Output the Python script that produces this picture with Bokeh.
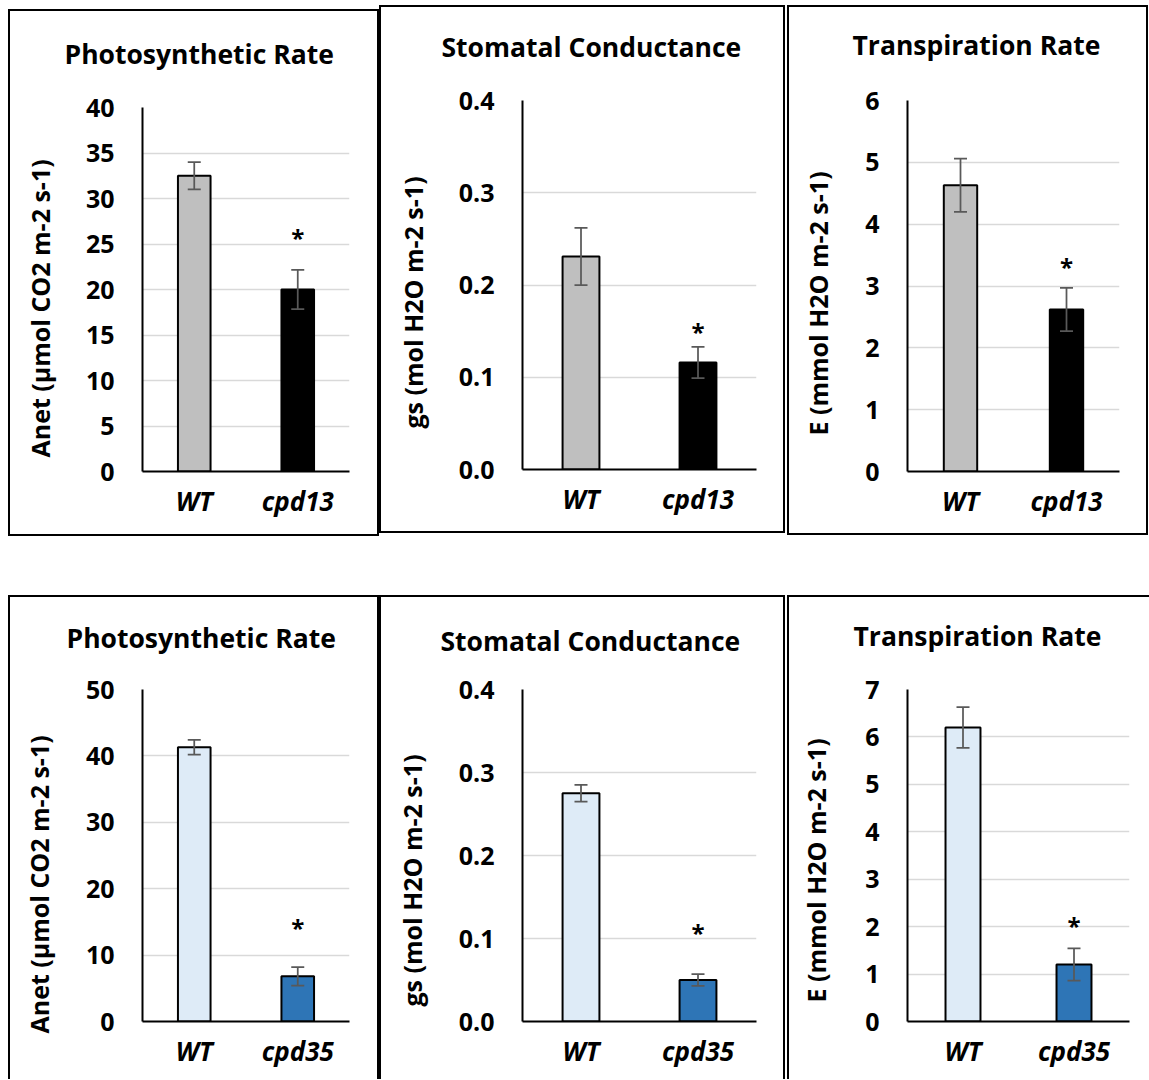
from bokeh.plotting import figure
from bokeh.models import (ColumnDataSource, FactorRange, Range1d, FixedTicker,
                          NumeralTickFormatter, Whisker, TeeHead, Spacer, Title)
from bokeh.layouts import row, column
from bokeh.core.properties import value
from bokeh.embed import file_html
from bokeh.resources import INLINE

FONT = "Open Sans"

# ---------------- data ----------------
genotypes_top = ["WT", "cpd13"]
genotypes_bottom = ["WT", "cpd35"]

anet_top = [32.5, 20.0]
anet_top_se = [1.5, 2.15]
gs_top = [0.231, 0.116]
gs_top_se = [0.031, 0.017]
e_top = [4.63, 2.62]
e_top_se = [0.43, 0.35]

anet_bottom = [41.3, 6.8]
anet_bottom_se = [1.1, 1.4]
gs_bottom = [0.275, 0.050]
gs_bottom_se = [0.010, 0.007]
e_bottom = [6.2, 1.2]
e_bottom_se = [0.43, 0.34]

star_y_top = [25.7, 0.150, 3.31]
star_y_bottom = [14.2, 0.107, 2.02]

panel_titles = ["Photosynthetic Rate", "Stomatal Conductance", "Transpiration Rate"]
y_labels = ["Anet (\u00b5mol CO2 m-2 s-1)", "gs (mol H2O m-2 s-1)", "E (mmol H2O m-2 s-1)"]
y_max_top = [40, 0.4, 6]
y_step_top = [5, 0.1, 1]
y_max_bottom = [50, 0.4, 7]
y_step_bottom = [10, 0.1, 1]
tick_formats = ["0", "0.0", "0"]

colors_top = ["#bfbfbf", "#000000"]
colors_bottom = ["#deebf7", "#2e75b6"]

# ---------------- layout geometry (page pixels) ----------------
# box=(x0, y0, w, h); frame=(left, right, top, bottom); title=(left x, baseline y)
# ygap: space between tick labels and y label; yoff: y label start above frame bottom
GEOM_TOP = [
    dict(box=(8, 9, 371, 527), sides="tlrb", frame=(142, 349, 107, 471), title=(64, 63), ygap=26, yoff=14),
    dict(box=(379, 5, 406, 528), sides="tlrb", frame=(522, 756, 99, 469), title=(441, 55), ygap=26, yoff=41),
    dict(box=(787, 5, 361, 530), sides="tlrb", frame=(907, 1119, 100, 471), title=(852, 54), ygap=28, yoff=36),
]
GEOM_BOTTOM = [
    dict(box=(8, 595, 371, 484), sides="tlr", frame=(142, 349, 689, 1021), title=(66, 647), ygap=27, yoff=-12),
    dict(box=(379, 595, 406, 484), sides="tlr", frame=(522, 756, 689, 1022), title=(440, 650), ygap=27, yoff=15),
    dict(box=(787, 595, 362, 484), sides="tl", frame=(907, 1129, 689, 1021), title=(853, 645), ygap=30, yoff=19),
]

BW = 2
ERR = "#595959"
TITLE_PX = 26.5
YLAB_PX = 25


def make_panel(title, ylabel, cats, vals, se, star_y, ymax, ystep, fmt, colors, g):
    x0, y0, w, h = g["box"]
    s = g["sides"]
    cx0 = x0 + (BW if "l" in s else 0)
    cy0 = y0 + (BW if "t" in s else 0)
    fl, fr, ft, fb = g["frame"]
    ml = int(round(fl - cx0))
    mr = int(round(cx0 + w - fr))
    mt = int(round(ft - cy0))
    mb = int(round(cy0 + h - fb))

    n = int(round(ymax / ystep))
    ticks = [round(i * ystep, 6) for i in range(n + 1)]

    p = figure(x_range=FactorRange(factors=cats), y_range=Range1d(0, ymax),
               width=w, height=h, output_backend="svg", toolbar_location=None, tools="",
               min_border_left=ml, min_border_right=mr, min_border_top=mt, min_border_bottom=mb)
    names = {"t": "top", "l": "left", "r": "right", "b": "bottom"}
    p.styles = {"border-%s" % names[c]: "%dpx solid black" % BW for c in s}
    p.outline_line_color = None
    p.background_fill_color = "white"
    p.border_fill_color = "white"

    src = ColumnDataSource(dict(
        x=cats, top=vals,
        upper=[v + e for v, e in zip(vals, se)],
        lower=[v - e for v, e in zip(vals, se)],
        color=colors))

    p.vbar(x="x", top="top", width=0.315, bottom=0, source=src,
           fill_color="color", line_color="black", line_width=2)

    wh = Whisker(base="x", upper="upper", lower="lower", source=src,
                 line_color=ERR, line_width=1.75, level="overlay",
                 upper_head=TeeHead(size=13, line_color=ERR, line_width=1.75),
                 lower_head=TeeHead(size=13, line_color=ERR, line_width=1.75))
    p.add_layout(wh)

    p.text(x=[cats[1]], y=[star_y], text=["*"], text_align="center",
           text_baseline="middle", text_font=value(FONT), text_font_style="bold",
           text_font_size="24px", text_color="black")

    # axes
    for ax in (p.xaxis[0], p.yaxis[0]):
        ax.axis_line_color = "black"
        ax.axis_line_width = 2
        ax.major_tick_line_color = None
        ax.minor_tick_line_color = None
        ax.major_tick_out = 0
        ax.major_label_text_font = FONT
        ax.major_label_text_color = "black"
    p.xaxis.major_label_text_font_size = "26px"
    p.xaxis.major_label_text_font_style = "bold italic"
    p.xaxis.major_label_standoff = 11
    p.yaxis.major_label_text_font_size = "25px"
    p.yaxis.major_label_text_font_style = "bold"
    p.yaxis.major_label_standoff = 28
    p.yaxis.ticker = FixedTicker(ticks=ticks)
    p.yaxis.formatter = NumeralTickFormatter(format=fmt)

    p.xgrid.grid_line_color = None
    p.ygrid.ticker = FixedTicker(ticks=ticks)
    p.ygrid.grid_line_color = "#d9d9d9"
    p.ygrid.grid_line_width = 1.5

    # y label: blank spacer next to the tick labels, then the rotated label
    p.add_layout(Title(text=" ", text_font_size="1px", standoff=int(round(g["ygap"] - 3.4))), "left")
    p.add_layout(Title(text=ylabel, align="left", offset=g["yoff"], standoff=0,
                       text_font=FONT, text_font_style="bold",
                       text_font_size="%gpx" % YLAB_PX, text_color="black"), "left")

    # title: a blank spacer title next to the frame, then the real title
    tl, tbase = g["title"]
    descent = 0.293 * TITLE_PX
    gap = ft - (tbase + descent)
    p.add_layout(Title(text=" ", text_font_size="1px", standoff=int(round(gap - 3.5))), "above")
    p.add_layout(Title(text=title, align="left", offset=int(round(tl - fl)), standoff=0,
                       text_font=FONT, text_font_style="bold",
                       text_font_size="%gpx" % TITLE_PX, text_color="black"), "above")
    return p


top_vals = [anet_top, gs_top, e_top]
top_se = [anet_top_se, gs_top_se, e_top_se]
bot_vals = [anet_bottom, gs_bottom, e_bottom]
bot_se = [anet_bottom_se, gs_bottom_se, e_bottom_se]

top_figs = [make_panel(panel_titles[i], y_labels[i], genotypes_top, top_vals[i], top_se[i],
                       star_y_top[i], y_max_top[i], y_step_top[i], tick_formats[i],
                       colors_top, GEOM_TOP[i]) for i in range(3)]
bot_figs = [make_panel(panel_titles[i], y_labels[i], genotypes_bottom, bot_vals[i], bot_se[i],
                       star_y_bottom[i], y_max_bottom[i], y_step_bottom[i], tick_formats[i],
                       colors_bottom, GEOM_BOTTOM[i]) for i in range(3)]

top_row = row(Spacer(width=8, height=10),
              column(Spacer(width=10, height=4), top_figs[0]),
              top_figs[1],
              Spacer(width=2, height=10), top_figs[2])
bot_row = row(Spacer(width=8, height=10), bot_figs[0],
              bot_figs[1],
              Spacer(width=2, height=10), bot_figs[2])
layout = column(Spacer(width=10, height=5), top_row, Spacer(width=10, height=59), bot_row)

open("out.html", "w").write(file_html(layout, INLINE))
